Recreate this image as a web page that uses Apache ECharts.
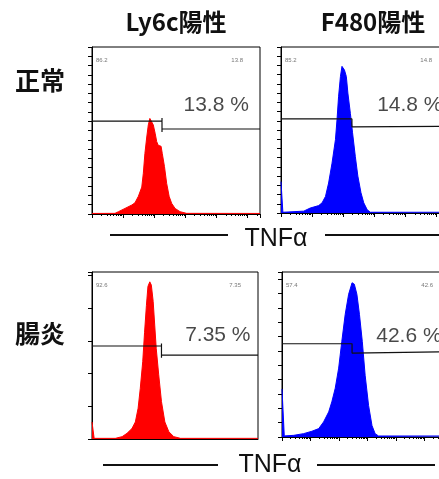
<!DOCTYPE html>
<html>
<head>
<meta charset="utf-8">
<script src="https://cdn.jsdelivr.net/npm/echarts@6/dist/echarts.min.js"></script>
<style>
html,body{margin:0;padding:0;background:#fff;}
#c{width:439px;height:479px;}
</style>
</head>
<body>
<div id="c"></div>
<script>
// ---- data (TNFα fluorescence in log decades, event counts) ----
const columnTitles = ['Ly6c陽性', 'F480陽性'];
const rowTitles = ['正常', '腸炎'];
const axisTitle = 'TNFα';

// Panel 1: Ly6c+ 正常
const p1X = [0, 0.74, 0.85, 1.06, 1.28, 1.38, 1.49, 1.60, 1.65, 1.70, 1.76, 1.81, 1.86, 1.92, 1.97, 2.03, 2.08, 2.13, 2.22, 2.26, 2.33, 2.40, 2.48, 2.56, 2.67, 2.83, 3.04, 5.4];
const p1Y = [0.6, 0.7, 2.5, 6, 9.7, 12, 19, 29, 44, 65, 83, 96, 103, 101, 96, 87, 78, 74, 73, 65, 51, 33, 19, 11.5, 6, 2.5, 0.7, 0.6];
// Panel 2: F480+ 正常
const p2X = [0, 0.04, 0.06, 0.73, 0.94, 1.21, 1.32, 1.43, 1.53, 1.64, 1.75, 1.80, 1.85, 1.91, 1.96, 2.04, 2.10, 2.15, 2.23, 2.30, 2.39, 2.47, 2.57, 2.66, 2.77, 2.87, 5.4];
const p2Y = [34, 34, 0.8, 2, 5.4, 8, 11, 18, 32.5, 54, 79.5, 101, 126, 148, 159, 155, 148, 130, 108, 87, 61, 40, 22, 11, 3.6, 0.8, 0.8];
// Panel 3: Ly6c+ 腸炎
const p3X = [0, 0.05, 0.07, 0.76, 0.98, 1.14, 1.30, 1.41, 1.50, 1.57, 1.65, 1.71, 1.77, 1.82, 1.88, 1.93, 1.99, 2.04, 2.09, 2.17, 2.26, 2.37, 2.50, 2.66, 2.88, 5.4];
const p3Y = [26, 26, 1, 1, 3.6, 8.7, 16, 26, 47, 77, 118, 163, 204, 233, 240, 235, 210, 174, 138, 98, 57, 26, 11, 3.6, 1, 1];
// Panel 4: F480+ 腸炎
const p4X = [0, 0.06, 0.08, 0.41, 0.76, 1.05, 1.29, 1.46, 1.64, 1.75, 1.87, 1.99, 2.10, 2.22, 2.34, 2.46, 2.54, 2.63, 2.72, 2.82, 2.92, 3.04, 3.16, 3.27, 3.39, 5.9];
const p4Y = [67, 67, 1.5, 2.3, 4.7, 8, 11.7, 21, 35, 49, 68, 96, 133, 171, 199, 215, 213, 199, 171, 133, 86, 44, 16, 4.7, 1.4, 1.4];

// gate: split position, left level, right level, tick top, tick bottom
const gateSplit = [2.25, 2.28, 2.26, 2.46];
const gateLeft = [100, 102, 142, 130];
const gateRight = [91.6, 94, 128, 119];
const gateTickTop = [103.5, 103, 146, 132];
const gateTickBot = [88.4, 93.3, 124, 117];

// percent labels
const pctText = ['13.8 %', '14.8 %', '7.35 %', '42.6 %'];
const pctX = [2.94, 3.09, 3.03, 3.31];
const pctY = [117, 117, 158, 140];
// corner statistics (negative / positive)
const cornerLeft = ['86.2', '85.2', '92.6', '57.4'];
const cornerRight = ['13.8', '14.8', '7.35', '42.6'];

// ---- layout / style ----
const grids = [
  {left: 92, top: 47, width: 168, height: 167},
  {left: 281, top: 47, width: 168, height: 166},
  {left: 92, top: 272, width: 166, height: 167},
  {left: 282, top: 272, width: 168, height: 165}
];
const xMax = [5.4, 5.4, 5.4, 5.9];
const yMax = [180, 180, 255, 230];
const yInterval = [10, 10, 50, 20];
const showXTicks = [true, true, false, true];
const colors = ['#ff0000', '#0000ff', '#ff0000', '#0000ff'];
const seriesX = [p1X, p2X, p3X, p4X];
const seriesY = [p1Y, p2Y, p3Y, p4Y];

// log-style minor tick positions (axis decoration)
function minorTicks(maxD) {
  const out = [];
  for (let d = 0; d < 6; d++) {
    for (let k = 2; k <= 9; k++) {
      const v = d + Math.log10(k);
      if (v < maxD) out.push(v);
    }
  }
  return out;
}

const xAxes = [], yAxes = [], series = [], graphics = [];
grids.forEach((g, i) => {
  xAxes.push({
    gridIndex: i, type: 'value', min: 0, max: xMax[i], interval: 1, position: 'bottom',
    axisLine: {show: true, lineStyle: {color: '#000', width: 1}},
    axisTick: {show: showXTicks[i], length: 4, lineStyle: {color: '#000'}},
    axisLabel: {show: false}, splitLine: {show: false}
  });
  xAxes.push({
    gridIndex: i, type: 'value', min: 0, max: xMax[i], position: 'bottom', offset: 0,
    axisLine: {show: false},
    axisTick: {show: showXTicks[i], length: 2, customValues: minorTicks(xMax[i]), lineStyle: {color: '#000'}},
    axisLabel: {show: false}, splitLine: {show: false}
  });
  yAxes.push({
    gridIndex: i, type: 'value', min: 0, max: yMax[i], interval: yInterval[i],
    axisLine: {show: true, lineStyle: {color: '#000', width: 1}},
    axisTick: {show: true, length: 4, lineStyle: {color: '#000'}},
    axisLabel: {show: false}, splitLine: {show: false}
  });
  series.push({
    type: 'line', xAxisIndex: i * 2, yAxisIndex: i, symbol: 'none', smooth: false,
    data: seriesX[i].map((x, j) => [x, seriesY[i][j]]),
    lineStyle: {color: colors[i], width: 1},
    areaStyle: {color: colors[i], opacity: 1},
    z: 2
  });
  const s = gateSplit[i];
  series.push({
    type: 'line', xAxisIndex: i * 2, yAxisIndex: i, symbol: 'none',
    data: [[0, gateLeft[i]], [s, gateLeft[i]], [s, gateTickTop[i]], [s, gateTickBot[i]], [s, gateRight[i]], [xMax[i], gateRight[i]]],
    lineStyle: {color: '#111', width: 1.2},
    z: 3
  });
  series.push({
    type: 'scatter', xAxisIndex: i * 2, yAxisIndex: i, symbolSize: 0,
    data: [[pctX[i], pctY[i]]],
    label: {
      show: true, position: [0, 0], align: 'left', verticalAlign: 'middle',
      formatter: pctText[i], fontSize: 21, color: '#1a1a1a',
      fontFamily: 'Liberation Sans, Arial, sans-serif'
    },
    z: 4
  });
  graphics.push({
    type: 'text', x: g.left + 4, y: g.top + 13,
    style: {text: cornerLeft[i], fontSize: 6, fill: '#777', align: 'left', verticalAlign: 'middle', textAlign: 'left', textVerticalAlign: 'middle', fontFamily: 'Liberation Sans'}
  });
  graphics.push({
    type: 'text', x: g.left + g.width - 17, y: g.top + 13,
    style: {text: cornerRight[i], fontSize: 6, fill: '#777', align: 'right', verticalAlign: 'middle', textAlign: 'right', textVerticalAlign: 'middle', fontFamily: 'Liberation Sans'}
  });
});

const cjk = '"Noto Sans CJK JP", "Noto Sans", sans-serif';
function txt(text, x, y, size, weight, family) {
  return {
    type: 'text', x: x, y: y,
    style: {text: text, fontSize: size, fontWeight: weight, fill: '#111', fontFamily: family,
      align: 'center', verticalAlign: 'middle', textAlign: 'center', textVerticalAlign: 'middle'}
  };
}
graphics.push(txt(columnTitles[0], 176, 22, 24, 'bold', cjk));
graphics.push(txt(columnTitles[1], 373, 22, 24, 'bold', cjk));
graphics.push(txt(rowTitles[0], 40, 80, 25, 'bold', cjk));
graphics.push(txt(rowTitles[1], 40, 333, 25, 'bold', cjk));
graphics.push(txt(axisTitle, 276, 239, 25, 'normal', 'Liberation Sans, Arial, sans-serif'));
graphics.push(txt(axisTitle, 270, 465, 25, 'normal', 'Liberation Sans, Arial, sans-serif'));
function hline(x1, x2, y) {
  return {type: 'line', shape: {x1: x1, y1: y, x2: x2, y2: y}, style: {stroke: '#111', lineWidth: 2}};
}
graphics.push(hline(110, 228, 235));
graphics.push(hline(325, 440, 235));
graphics.push(hline(103, 218, 465));
graphics.push(hline(317, 435, 465));

const chart = echarts.init(document.getElementById('c'), null, {renderer: 'canvas'});
chart.setOption({
  animation: false,
  backgroundColor: '#fff',
  grid: grids.map(g => Object.assign({show: true, borderColor: '#000', borderWidth: 1, backgroundColor: 'transparent', containLabel: false, outerBoundsMode: 'none'}, g)),
  xAxis: xAxes,
  yAxis: yAxes,
  series: series,
  graphic: graphics
});
</script>
</body>
</html>
